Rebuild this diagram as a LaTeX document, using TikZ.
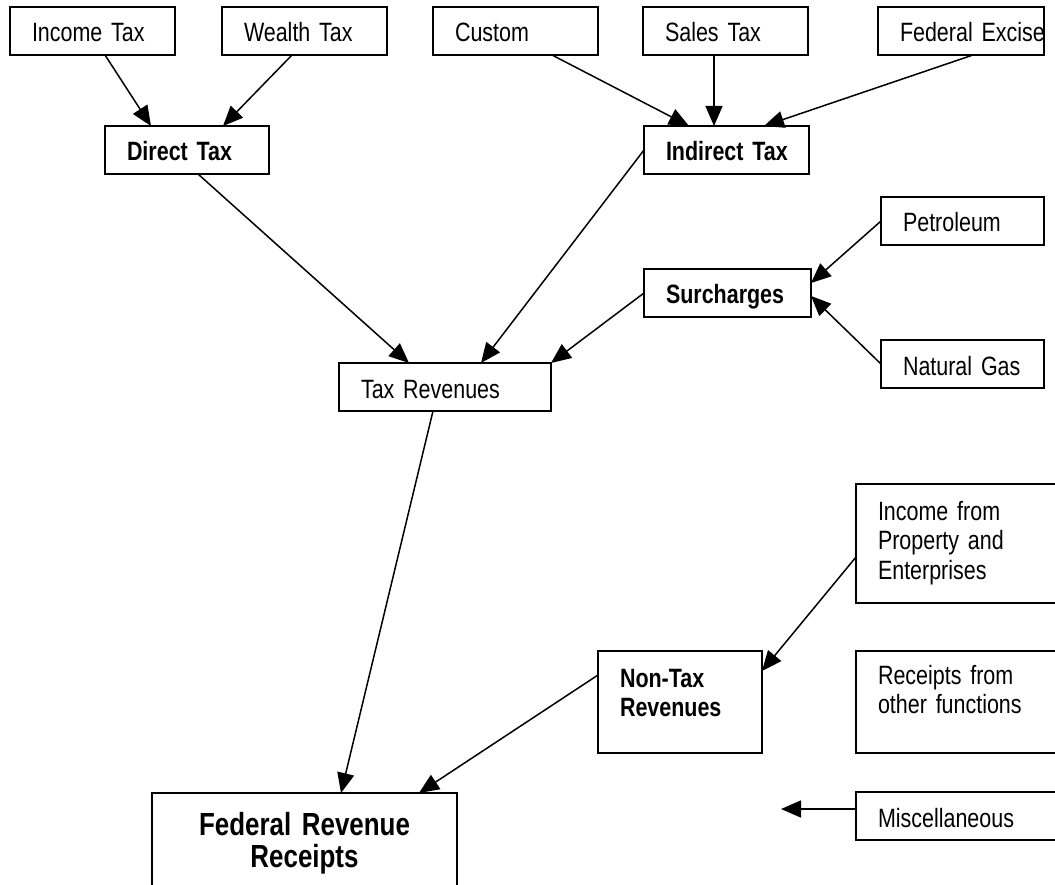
\documentclass[tikz,border=0pt]{standalone}
\usepackage{fontspec}
\setmainfont[FakeStretch=0.81]{Liberation Sans}
\usetikzlibrary{arrows.meta,calc}
% label fonts with a narrower interword space
\newcommand\boxfont{\fontsize{26.5}{29.5}\selectfont\setlength\spaceskip{4.8pt plus 1pt minus 1pt}}
\newcommand\totalfont{\fontsize{32}{32.5}\selectfont\bfseries\setlength\spaceskip{6pt plus 1pt minus 1pt}}
\begin{document}
\begin{tikzpicture}[x=1pt,y=-1pt,
  box/.style={draw, line width=1.8pt, anchor=north west, outer sep=0pt,
    inner xsep=22pt, inner ysep=0pt, align=left,
    text height=24pt, text depth=2pt, font=\boxfont},
  boldbox/.style={box, font=\boxfont\bfseries},
  feed/.style={line width=1.5pt, -{Triangle[length=20pt,width=17pt]}}]
\useasboundingbox (0,0) rectangle (1055,885);
\clip (0,0) rectangle (1055,885);

% sources of direct and indirect taxes
\node[box, text width=121pt, minimum height=48pt] (inc) at (10,7) {Income Tax};
\node[box, text width=121pt, minimum height=48pt] (wea) at (222,7) {Wealth Tax};
\node[box, text width=121pt, minimum height=48pt] (cus) at (433,7) {Custom};
\node[box, text width=121pt, minimum height=48pt] (sal) at (643,7) {Sales Tax};
\node[box, text width=122pt, minimum height=48pt] (fed) at (878,7) {\makebox[122pt][l]{Federal Excise}};

% tax groups
\node[boldbox, text width=120pt, minimum height=48pt] (dir) at (105,126) {\makebox[120pt][l]{Direct Tax}};
\node[boldbox, text width=121pt, minimum height=48pt] (ind) at (644,126) {\makebox[121pt][l]{Indirect Tax}};
\node[boldbox, text width=123pt, minimum height=48pt] (sur) at (644,269) {\makebox[123pt][l]{Surcharges}};
\node[box, text width=119pt, minimum height=48pt] (pet) at (881,197) {Petroleum};
\node[box, text width=119pt, minimum height=48pt] (gas) at (881,340) {Natural Gas};
\node[box, text width=168pt, minimum height=48pt] (tax) at (339,363) {Tax Revenues};

% non-tax side
\node[box, text width=176pt, minimum height=119pt, text height=20pt, text depth=67pt]
  (inp) at (856,484) {Income from\\Property and\\Enterprises};
\node[boldbox, text width=120pt, minimum height=102pt, text height=20pt, text depth=50pt]
  (non) at (598,651) {Non-Tax\\Revenues};
\node[box, text width=176pt, minimum height=102pt, text height=20pt, text depth=56pt]
  (rec) at (856,651) {Receipts from\\other functions};
\node[box, text width=176pt, minimum height=48pt] (mis) at (856,792) {Miscellaneous};

% total
\node[box, text width=261pt, minimum height=120pt, align=center,
  text height=22pt, text depth=58pt, font=\totalfont]
  (frr) at (152,793) {Federal Revenue\\Receipts};

\coordinate (misend) at (781,809);

% connectors
\draw[feed] ($(inc.south west)+(95,0)$) -- ($(dir.north west)+(46,0)$);
\draw[feed] ($(wea.south west)+(70,0)$) -- ($(dir.north west)+(118,0)$);
\draw[feed] ($(cus.south west)+(119,0)$) -- ($(ind.north west)+(45,0)$);
\draw[feed] ($(sal.south west)+(71,0)$) -- ($(ind.north west)+(70,0)$);
\draw[feed] ($(fed.south west)+(95,0)$) -- ($(ind.north west)+(120,0)$);
\draw[feed] ($(dir.south west)+(93,0)$) -- ($(tax.north west)+(70,0)$);
\draw[feed] (ind.west) -- ($(tax.north west)+(142,0)$);
\draw[feed] (sur.west) -- (tax.north east);
\draw[feed] (pet.west) -- ($(sur.north east)+(0,14)$);
\draw[feed] (gas.west) -- ($(sur.north east)+(0,27)$);
\draw[feed] ($(tax.south west)+(94,0)$) -- ($(frr.north west)+(189,0)$);
\draw[feed] ($(non.north west)+(0,24)$) -- ($(frr.north west)+(267,0)$);
\draw[feed] ($(inp.north west)+(0,73)$) -- ($(non.north east)+(0,20)$);
\draw[feed] ($(mis.north west)+(0,17)$) -- (misend);
\end{tikzpicture}
\end{document}
